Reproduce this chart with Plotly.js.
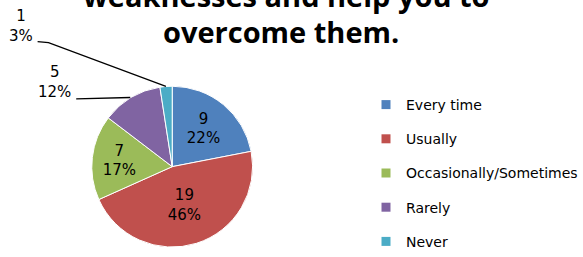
<!DOCTYPE html>
<html>
<head>
<meta charset="utf-8">
<script src="https://cdn.plot.ly/plotly-3.0.1.min.js"></script>
<style>html,body{margin:0;padding:0;background:#fff;}#chart{width:583px;height:257px;}</style>
</head>
<body>
<div id="chart"></div>
<script>
// ---- data ----
const categories = ['Every time', 'Usually', 'Occasionally/Sometimes', 'Rarely', 'Never'];
const counts = [9, 19, 7, 5, 1];
const pctLabels = ['22%', '46%', '17%', '12%', '3%'];
const colors = ['#4F81BD', '#C0504D', '#9BBB59', '#8064A2', '#4BACC6'];
const titleLines = ['weaknesses and help you to', 'overcome them.'];

// ---- layout helpers (pixels -> paper) ----
const W = 583, H = 257;
const pieCx = 174, pieCy = 172, pieR = 83;
const px = x => x / W;
const py = y => 1 - y / H;

// slice edge point at the middle angle of slice i, from the data
const total = counts.reduce((a, b) => a + b, 0);
function edgePoint(i) {
  let before = 0;
  for (let k = 0; k < i; k++) before += counts[k];
  const frac = (before + counts[i] / 2) / total;
  const th = frac * 2 * Math.PI; // clockwise from top
  return [px(pieCx + pieR * Math.sin(th)), py(pieCy - pieR * Math.cos(th))];
}

const textFont = {family: 'DejaVu Sans', size: 15, color: '#000'};
const titleFont = {family: 'Open Sans', size: 29, color: '#000', weight: 700};

const pie = {
  type: 'pie',
  labels: categories,
  values: counts,
  text: pctLabels,
  texttemplate: '%{value}<br>%{text}',
  textposition: ['inside', 'inside', 'inside', 'none', 'none'],
  insidetextorientation: 'horizontal',
  textfont: textFont,
  sort: false,
  direction: 'clockwise',
  rotation: 0,
  marker: {colors: colors, line: {color: '#ffffff', width: 1}},
  domain: {x: [px(pieCx - pieR), px(pieCx + pieR)], y: [py(pieCy + pieR), py(pieCy - pieR)]},
  showlegend: false,
  hoverinfo: 'none'
};

// legend entries (one per category, each in its own group for spacing)
const legendTraces = categories.map((c, i) => ({
  type: 'scatter', mode: 'markers', x: [null], y: [null],
  name: c, legendgroup: 'g' + i,
  marker: {symbol: 'square', size: 9, color: colors[i]},
  hoverinfo: 'none'
}));

const pRare = edgePoint(3), pNever = edgePoint(4);

const layout = {
  width: W, height: H,
  margin: {l: 0, r: 0, t: 0, b: 0},
  paper_bgcolor: '#fff', plot_bgcolor: '#fff',
  xaxis: {visible: false}, yaxis: {visible: false},
  showlegend: true,
  legend: {
    x: px(370), xanchor: 'left', y: py(92), yanchor: 'top',
    font: {family: 'DejaVu Sans', size: 14, color: '#000'},
    tracegroupgap: 13, bgcolor: 'rgba(0,0,0,0)'
  },
  annotations: [
    {text: titleLines[0], xref: 'paper', yref: 'paper', x: px(289), y: py(18), xanchor: 'center', yanchor: 'bottom',
     showarrow: false, font: titleFont},
    {text: titleLines[1], xref: 'paper', yref: 'paper', x: px(284), y: py(55), xanchor: 'center', yanchor: 'bottom',
     showarrow: false, font: titleFont},
    {text: counts[3] + '<br>' + pctLabels[3], xref: 'paper', yref: 'paper', x: px(55), y: py(85),
     xanchor: 'center', yanchor: 'middle', showarrow: false, font: textFont},
    {text: counts[4] + '<br>' + pctLabels[4], xref: 'paper', yref: 'paper', x: px(21), y: py(27),
     xanchor: 'center', yanchor: 'middle', showarrow: false, font: textFont}
  ],
  shapes: [
    {type: 'line', xref: 'paper', yref: 'paper', x0: px(77), y0: py(102), x1: pRare[0], y1: pRare[1],
     line: {color: '#000', width: 1.3}},
    {type: 'path', xref: 'paper', yref: 'paper',
     path: 'M ' + px(38) + ' ' + py(43) + ' L ' + px(49) + ' ' + py(44) + ' L ' + pNever[0] + ' ' + pNever[1],
     line: {color: '#000', width: 1.3}}
  ]
};

Plotly.newPlot('chart', [pie].concat(legendTraces), layout, {displayModeBar: false, staticPlot: true});
</script>
</body>
</html>
